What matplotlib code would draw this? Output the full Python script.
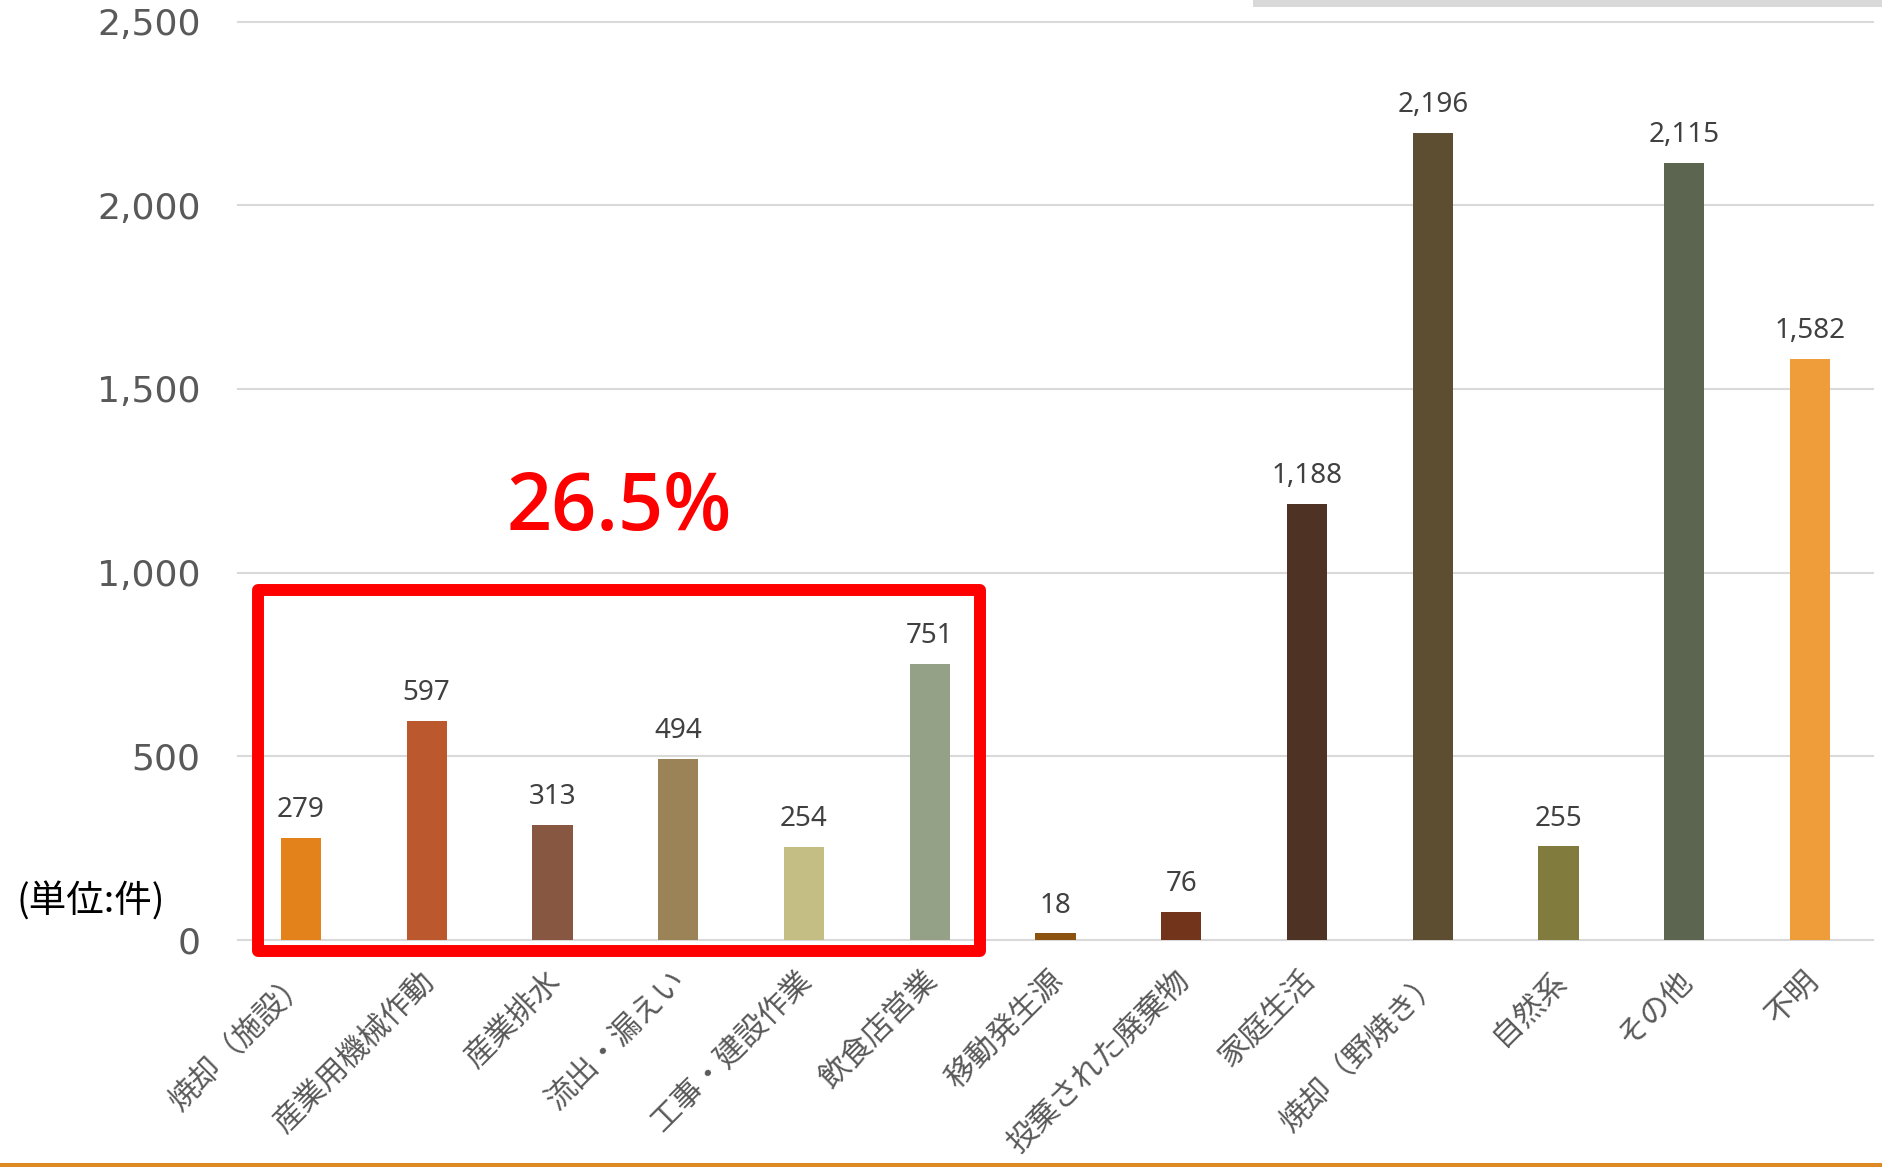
import matplotlib.pyplot as plt
from matplotlib.patches import Rectangle

categories = ["焼却（施設）", "産業用機械作動", "産業排水", "流出・漏えい", "工事・建設作業",
              "飲食店営業", "移動発生源", "投棄された廃棄物", "家庭生活", "焼却（野焼き）",
              "自然系", "その他", "不明"]
counts = [279, 597, 313, 494, 254, 751, 18, 76, 1188, 2196, 255, 2115, 1582]
colors = ["#E3821A", "#BC582E", "#885742", "#9C8257", "#C4BD84", "#95A186", "#8B5210",
          "#72351C", "#4E3325", "#5D4E32", "#817C3E", "#5B6550", "#EF9C3B"]
yticks = [0, 500, 1000, 1500, 2000, 2500]
ytick_labels = ["0", "500", "1,000", "1,500", "2,000", "2,500"]
highlight_n = 6
highlight_text = "26.5%"
unit_text = "(単位:件)"

plt.rcParams["font.family"] = ["DejaVu Sans", "Noto Sans CJK JP"]

fig = plt.figure(figsize=(18.83, 11.67), dpi=100)
ax = fig.add_axes([0.1264, 0.1945, 0.8683, 0.787])

x = list(range(len(categories)))
bars = ax.bar(x, counts, width=0.32, color=colors, zorder=2)

for b, v in zip(bars, counts):
    ax.annotate(f"{v:,}", (b.get_x() + b.get_width() / 2, v), xytext=(0, 15),
                textcoords="offset points", ha="center", va="baseline",
                fontsize=20, color="#404040", family="Noto Sans")

ax.set_xlim(-0.5, len(categories) - 0.5)
ax.set_ylim(0, 2500)
ax.set_yticks(yticks)
ax.set_yticklabels(ytick_labels)
ax.set_xticks([i + 0.03 for i in x])
ax.set_xticklabels(categories, family="Noto Sans CJK JP", fontsize=22, color="#595959",
                   rotation=45, ha="right", va="center", rotation_mode="anchor")
ax.tick_params(axis="x", length=0, pad=26)
ax.tick_params(axis="y", length=0, pad=27, labelsize=26, labelcolor="#595959")

ax.grid(axis="y", color="#D9D9D9", linewidth=1.5, zorder=0)
ax.set_axisbelow(True)
for gl in ax.get_ygridlines():
    gl.set_clip_on(False)
for s in ax.spines.values():
    s.set_visible(False)

# red box round the first group
box_left, box_right = -0.345, highlight_n - 0.6
box_bottom, box_top = -30, 953
rect = Rectangle((box_left, box_bottom), box_right - box_left, box_top - box_bottom,
                 fill=False, edgecolor="#FF0000", linewidth=8.6, joinstyle="round",
                 clip_on=False, zorder=3)
ax.add_patch(rect)
ax.text((box_left + box_right) / 2, 1173, highlight_text, ha="center", va="center",
        fontsize=57, color="#FF0000", family="Open Sans", fontweight="semibold")

fig.text(17 / 1883, 1 - 902 / 1167, unit_text, ha="left", va="center",
         fontsize=27, color="#000000", family="Noto Sans CJK JP")

# decoration lines of the slide
fig.add_artist(Rectangle((1253 / 1883, 1 - 7 / 1167), 1 - 1253 / 1883, 7 / 1167,
                         transform=fig.transFigure, color="#D9D9D9", linewidth=0))
fig.add_artist(Rectangle((0, 0), 1, 4 / 1167, transform=fig.transFigure,
                         color="#DE8A22", linewidth=0))

fig.savefig("out.png", dpi=100)
